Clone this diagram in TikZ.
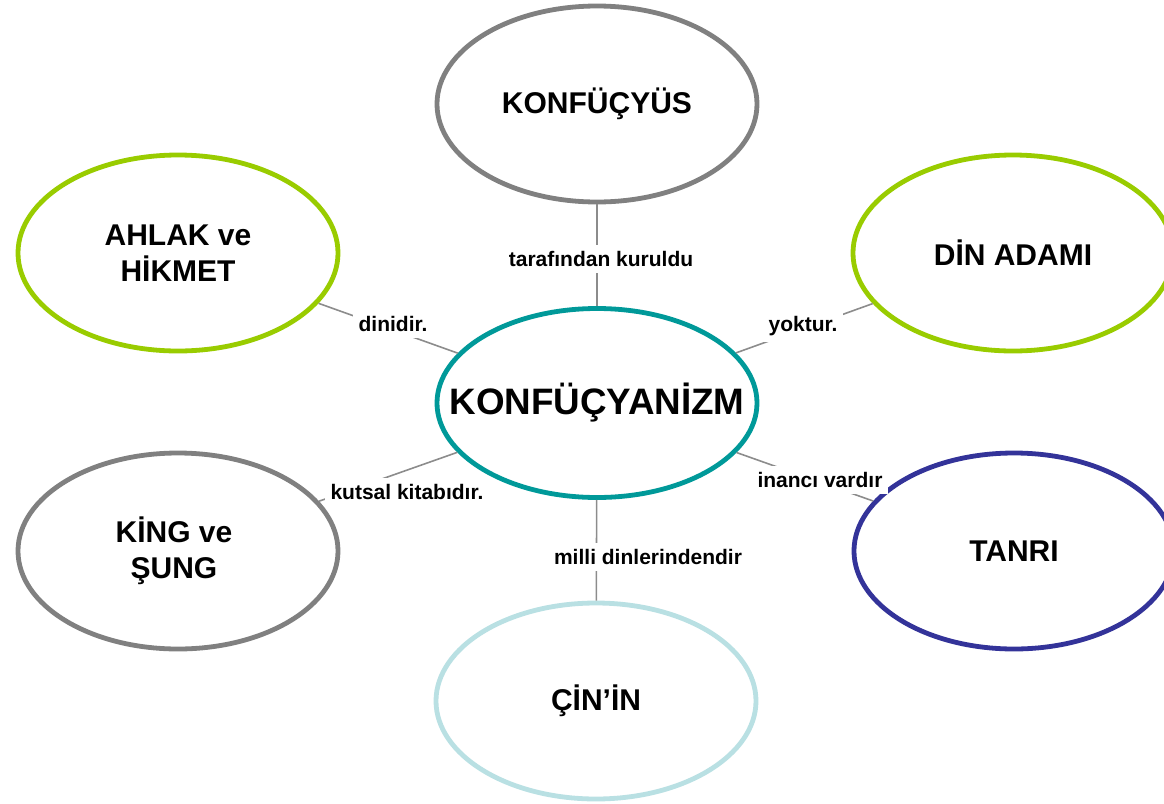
\documentclass[tikz,border=0pt]{standalone}
\usepackage{fontspec}
\setmainfont{Liberation Sans}
\usepackage{tikz}
\usetikzlibrary{shapes.geometric}

\definecolor{ringgray}{HTML}{808080}
\definecolor{ringgreen}{HTML}{99CC00}
\definecolor{ringteal}{HTML}{009999}
\definecolor{ringnavy}{HTML}{333399}
\definecolor{ringsky}{HTML}{B9E0E3}
\definecolor{linkgray}{HTML}{8C8C8C}

\begin{document}
\begin{tikzpicture}[
    x=0.5pt, y=-0.5pt,
    bubble/.style={ellipse, draw, fill=white, line width=2.4pt, inner sep=0pt,
        minimum width=160pt, minimum height=98pt},
    core/.style={bubble, minimum height=94.5pt},
    bubbletext/.style={align=center, font=\fontsize{15}{18}\selectfont\bfseries},
    coretext/.style={font=\fontsize{18.4}{22}\selectfont\bfseries},
    link/.style={draw=linkgray, line width=0.8pt},
    linklabel/.style={fill=white, inner xsep=3pt, inner ysep=3pt,
        font=\fontsize{10.5}{12}\selectfont\bfseries}
]
\clip (0,0) rectangle (1164,804);
% ellipses
\node[core, draw=ringteal] (konf) at (597,403) {};
\node[bubble, draw=ringgray] (kurucu) at (597,104) {};
\node[bubble, draw=ringgreen] (ahlak) at (178,253) {};
\node[bubble, draw=ringgreen] (dinadami) at (1013,253) {};
\node[bubble, draw=ringgray] (king) at (178,551) {};
\node[bubble, draw=ringnavy] (tanri) at (1014,551) {};
\node[bubble, draw=ringsky] (cin) at (596,701) {};
% texts
\node[coretext] (konftext) at (konf) {KONFÜÇYANİZM};
\node[bubbletext] (kurucutext) at (kurucu) {KONFÜÇYÜS};
\node[bubbletext] (ahlaktext) at (ahlak) {AHLAK ve\\HİKMET};
\node[bubbletext] (dinadamitext) at (dinadami) {DİN ADAMI};
\node[bubbletext] (kingtext) at (174,551) {KİNG ve\\ŞUNG};
\node[bubbletext] (tanritext) at (tanri) {TANRI};
\node[bubbletext] (cintext) at (cin) {ÇİN’İN};
% connectors
\draw[link] (konf) -- (kurucu);
\draw[link] (konf) -- (ahlak);
\draw[link] (konf) -- (dinadami);
\draw[link] (konf) -- (king);
\draw[link] (konf) -- (tanri);
\draw[link] (konf) -- (cin);
% connector labels
\node[linklabel] (kuruldu) at (601,259) {tarafından kuruldu};
\node[linklabel] (dinidir) at (393,324) {dinidir.};
\node[linklabel] (yoktur) at (803,326) {yoktur.};
\node[linklabel] (kitap) at (407,492) {kutsal kitabıdır.};
\node[linklabel] (inanc) at (820,480) {inancı vardır};
\node[linklabel] (milli) at (648,557) {milli dinlerindendir};
\end{tikzpicture}
\end{document}
